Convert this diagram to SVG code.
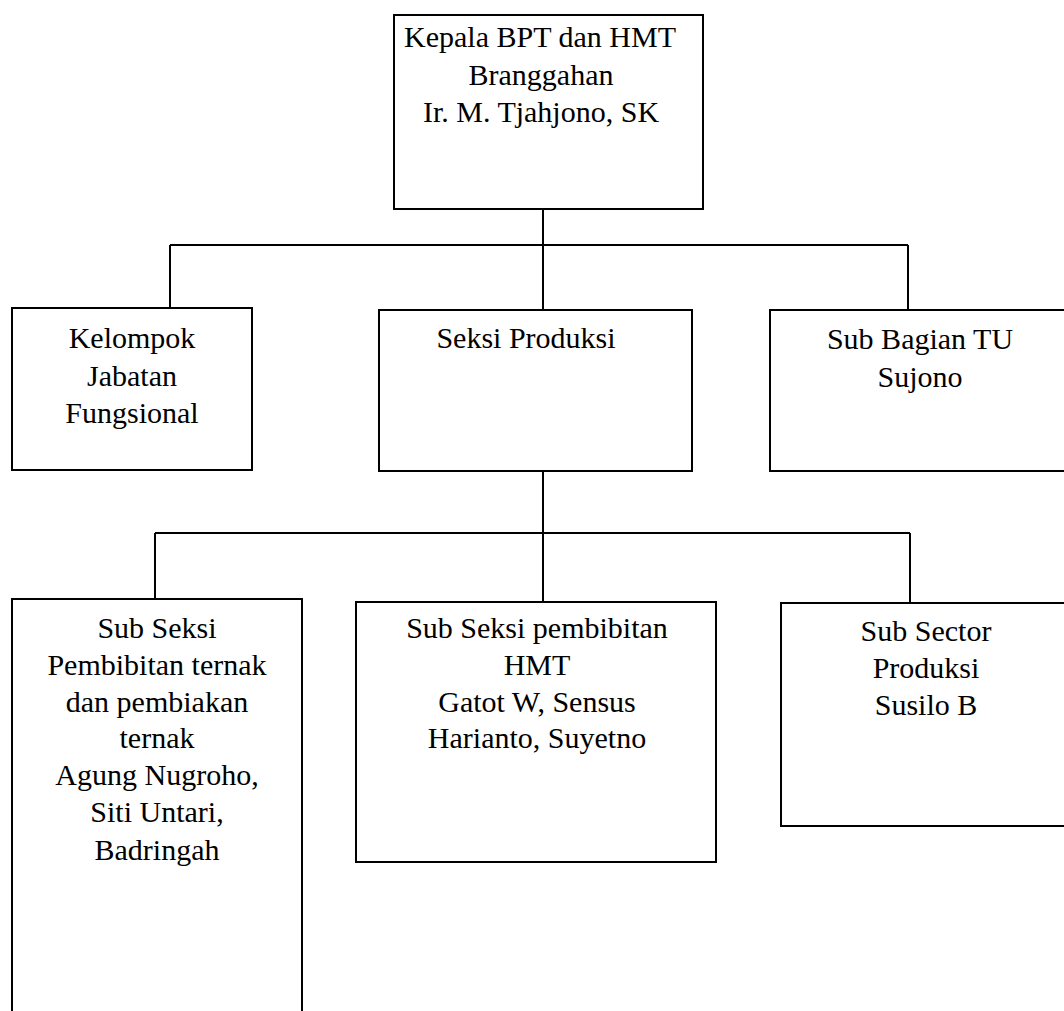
<svg xmlns="http://www.w3.org/2000/svg" width="1064" height="1011" viewBox="0 0 1064 1011">
<style>
.box{fill:#fff;stroke:#000;stroke-width:2}
.ln{fill:none;stroke:#000;stroke-width:2}
text{font-family:"Liberation Serif","Times New Roman",serif;font-size:30px;fill:#000;text-anchor:middle}
</style>
<rect width="1064" height="1011" fill="#fff"/>
<g id="connectors">
<path class="ln" d="M543 209 V245 M170 245 H908 M170 245 V308 M543 245 V310 M908 245 V310"/>
<path class="ln" d="M543 471 V533 M155 533 H910 M155 533 V599 M543 533 V602 M910 533 V603"/>
</g>
<g id="kepala">
<rect class="box" x="394" y="15" width="309" height="194"/>
<text x="540" y="47">Kepala BPT dan HMT</text>
<text x="541" y="85">Branggahan</text>
<text x="541" y="122">Ir. M. Tjahjono, SK</text>
</g>
<g id="kelompok">
<rect class="box" x="12" y="308" width="240" height="162"/>
<text x="132" y="348">Kelompok</text>
<text x="132" y="386">Jabatan</text>
<text x="132" y="423">Fungsional</text>
</g>
<g id="seksi-produksi">
<rect class="box" x="379" y="310" width="313" height="161"/>
<text x="526" y="348">Seksi Produksi</text>
</g>
<g id="sub-bagian-tu">
<rect class="box" x="770" y="310" width="300" height="161"/>
<text x="920" y="349">Sub Bagian TU</text>
<text x="920" y="387">Sujono</text>
</g>
<g id="sub-seksi-pembibitan-ternak">
<rect class="box" x="12" y="599" width="290" height="420"/>
<text x="157" y="638">Sub Seksi</text>
<text x="157" y="675">Pembibitan ternak</text>
<text x="157" y="712">dan pembiakan</text>
<text x="157" y="748">ternak</text>
<text x="157" y="785">Agung Nugroho,</text>
<text x="157" y="822">Siti Untari,</text>
<text x="157" y="860">Badringah</text>
</g>
<g id="sub-seksi-hmt">
<rect class="box" x="356" y="602" width="360" height="260"/>
<text x="537" y="638">Sub Seksi pembibitan</text>
<text x="537" y="675">HMT</text>
<text x="537" y="712">Gatot W, Sensus</text>
<text x="537" y="748">Harianto, Suyetno</text>
</g>
<g id="sub-sector-produksi">
<rect class="box" x="781" y="603" width="290" height="223"/>
<text x="926" y="641">Sub Sector</text>
<text x="926" y="678">Produksi</text>
<text x="926" y="715">Susilo B</text>
</g>
</svg>
